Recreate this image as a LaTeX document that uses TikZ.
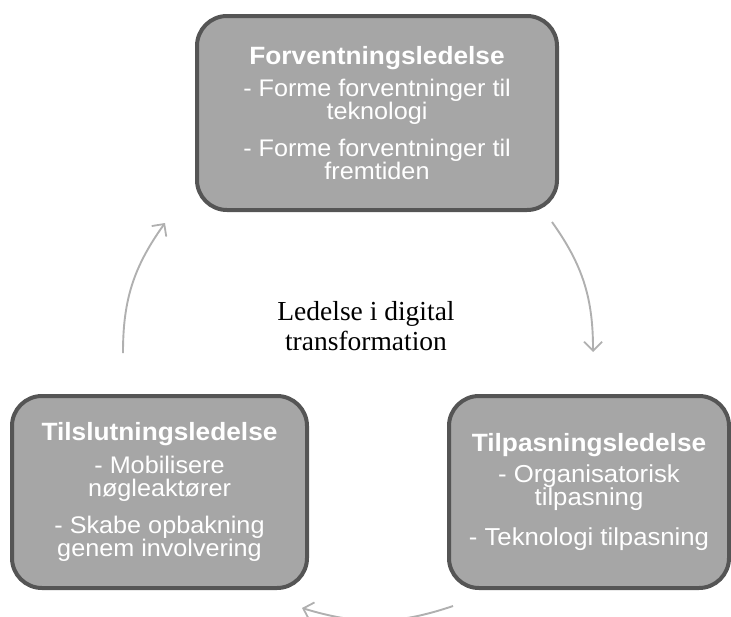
\documentclass[tikz,border=0pt]{standalone}
\usepackage{fontspec}
\setmainfont{Liberation Serif}
\newfontfamily\boxfont[FakeStretch=1.05]{Liberation Sans}
\usetikzlibrary{arrows.meta,bending}
\definecolor{boxfill}{HTML}{A6A6A6}
\definecolor{boxline}{HTML}{555555}
\definecolor{arrowgray}{HTML}{B0B0B0}
\newcommand{\tightlines}{\lineskiplimit=-30pt\relax\lineskip=0pt\relax}
\tikzset{
  phasebox/.style={draw=boxline, line width=4pt, fill=boxfill, rounded corners=30pt,
    text=white, align=center, inner sep=0pt,
    font=\boxfont\fontsize{24pt}{23pt}\selectfont\tightlines},
  cyclearrow/.style={draw=arrowgray, line width=1.9pt, bend left=18,
    -{Straight Barb[length=9pt,width=18pt,line width=1.8pt]}},
}
\newcommand{\ttl}[1]{{\fontsize{25pt}{23pt}\selectfont\bfseries #1}}
\begin{document}
\begin{tikzpicture}[x=1pt,y=-1pt]
\useasboundingbox (0,0) rectangle (731,616);
\node[phasebox, minimum width=360pt, minimum height=194pt] (top) at (377,113)
  {\ttl{Forventningsledelse}\\[9pt]
   - Forme forventninger til\\ teknologi\\[14pt]
   - Forme forventninger til\\ fremtiden};
\node[phasebox, minimum width=295pt, minimum height=192pt] (left) at (159.5,492)
  {\ttl{Tilslutningsledelse}\\[10pt]
   - Mobilisere\\ nøgleaktører\\[14pt]
   - Skabe opbakning\\ genem involvering};
\node[phasebox, minimum width=280pt, minimum height=192pt,
      font=\boxfont\fontsize{24.5pt}{23.5pt}\selectfont\tightlines] (right) at (589,492)
  {\ttl{Tilpasningsledelse}\\[7pt]
   - Organisatorisk\\ tilpasning\\[16pt]
   - Teknologi tilpasning};
\node[align=center, font=\fontsize{27.5pt}{30pt}\selectfont] (center) at (366,326)
  {Ledelse i digital\\ transformation};
\coordinate (a1s) at (552,222);
\coordinate (a1e) at (593,352);
\coordinate (a2s) at (453,606);
\coordinate (a2e) at (302,608);
\coordinate (a3s) at (123,353);
\coordinate (a3e) at (165,223);
\draw[cyclearrow] (a1s) to (a1e);
\draw[cyclearrow] (a2s) to (a2e);
\draw[cyclearrow] (a3s) to (a3e);
\end{tikzpicture}
\end{document}
